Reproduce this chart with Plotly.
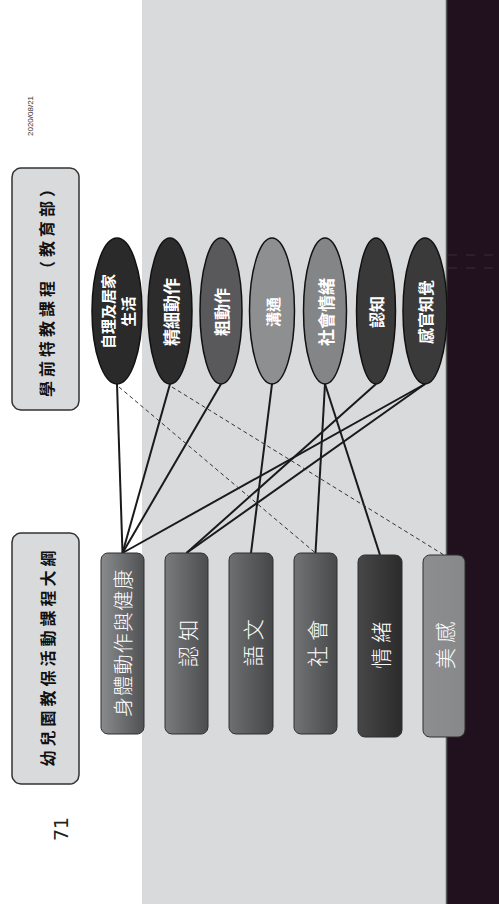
import plotly.graph_objects as go
import numpy as np

# ---------------- data ----------------
upper_labels = ["自理及居家<br>生活", "精細動作", "粗動作", "溝通", "社會情緒", "認知", "感官知覺"]
lower_labels = ["身體動作與健康", "認知", "語文", "社會", "情緒", "美感"]
title_upper = "學前特教課程（教育部）"
title_lower = "幼兒園教保活動課程大綱"
date_text = "2020/08/21"
page_number = "71"
# links: (upper index, lower index)
solid_links = [(0, 0), (1, 0), (2, 0), (3, 2), (4, 3), (4, 4), (5, 1), (6, 1), (6, 0)]
dashed_links = [(0, 3), (1, 5)]

# ---------------- layout / style ----------------
W, H = 499, 904
up_cx = [117, 170, 221, 272, 325, 376, 425]
up_w = [50, 44, 42, 45, 43, 39, 44]
up_y0, up_y1 = 238, 384
up_fill = ["#2a2a2a", "#2c2c2c", "#59595b", "#8e8f91", "#848587", "#393939", "#3a3a3a"]
up_font = [15, 17, 16, 15, 17, 16, 16]

lo_x0 = [101, 165, 229, 294, 358, 423]
lo_x1 = [144, 208, 273, 337, 402, 465]
lo_y0 = [553, 553, 553, 553, 555, 555]
lo_y1 = [734, 734, 734, 734, 737, 737]
lo_grad = [("#8a8b8d", "#505153"), ("#7a7b7d", "#4c4d4f"), ("#6e6f71", "#454648"),
           ("#727375", "#48494b"), ("#474747", "#2b2b2b"), ("#8e8e90", "#87888a")]

FONT = "Noto Sans CJK TC"


def rounded_rect(x0, y0, x1, y1, r, n=8):
    xs, ys = [], []
    corners = [(x1 - r, y0 + r, -90, 0), (x1 - r, y1 - r, 0, 90),
               (x0 + r, y1 - r, 90, 180), (x0 + r, y0 + r, 180, 270)]
    for cx, cy, a0, a1 in corners:
        for a in np.linspace(np.radians(a0), np.radians(a1), n):
            xs.append(cx + r * np.cos(a))
            ys.append(cy + r * np.sin(a))
    xs.append(xs[0]); ys.append(ys[0])
    return xs, ys


fig = go.Figure()
shapes = []
annotations = []

# backgrounds
shapes.append(dict(type="rect", xref="x", yref="y", x0=142, x1=446, y0=0, y1=H,
                   fillcolor="#d9dadc", line=dict(width=0), layer="below"))
shapes.append(dict(type="rect", xref="x", yref="y", x0=446, x1=W, y0=0, y1=H,
                   fillcolor="#21111f", line=dict(width=0), layer="below"))
shapes.append(dict(type="line", xref="x", yref="y", x0=446.5, x1=446.5, y0=0, y1=H,
                   line=dict(color="#5a5a5a", width=1.5), layer="below"))
for yy in (255, 268):
    shapes.append(dict(type="line", xref="x", yref="y", x0=448, x1=W, y0=yy, y1=yy,
                       line=dict(color="#3a2c38", width=1, dash="dash"), layer="below"))

# title boxes
for (y0, y1, txt) in [(168, 410, title_upper), (533, 784, title_lower)]:
    xs, ys = rounded_rect(12, y0, 79, y1, 9)
    fig.add_trace(go.Scatter(x=xs, y=ys, mode="lines", fill="toself", fillcolor="#d9dadc",
                             line=dict(color="#333333", width=1.5), hoverinfo="skip", showlegend=False))
    annotations.append(dict(x=46, y=(y0 + y1) / 2, xref="x", yref="y", text="\u2005".join(txt),
                            textangle=-90, showarrow=False,
                            font=dict(family=FONT, size=16, color="#111111", weight=700)))

# link lines
bottom_y = up_y1
for (u, l) in solid_links:
    fig.add_trace(go.Scatter(x=[up_cx[u], (lo_x0[l] + lo_x1[l]) / 2], y=[bottom_y, lo_y0[l]],
                             mode="lines", line=dict(color="#1a1a1a", width=2),
                             hoverinfo="skip", showlegend=False))
for (u, l) in dashed_links:
    fig.add_trace(go.Scatter(x=[up_cx[u] + 2, (lo_x0[l] + lo_x1[l]) / 2], y=[bottom_y + 3, lo_y0[l]],
                             mode="lines", line=dict(color="#333333", width=1, dash="4px,3px"),
                             hoverinfo="skip", showlegend=False))

# lower rounded rects with gradient
for i, lab in enumerate(lower_labels):
    xs, ys = rounded_rect(lo_x0[i], lo_y0[i], lo_x1[i], lo_y1[i], 7)
    c0, c1 = lo_grad[i]
    fig.add_trace(go.Scatter(x=xs, y=ys, mode="lines", fill="toself",
                             fillgradient=dict(type="horizontal", colorscale=[[0, c0], [1, c1]]),
                             line=dict(color="#2e2e2e", width=1), hoverinfo="skip", showlegend=False))
    if len(lab) > 3:
        txt, size = "\u200a".join(lab), 20
    else:
        txt, size = "\u2005".join(lab), 21
    annotations.append(dict(x=(lo_x0[i] + lo_x1[i]) / 2, y=(lo_y0[i] + lo_y1[i]) / 2,
                            xref="x", yref="y", text=txt, textangle=-90, showarrow=False,
                            font=dict(family=FONT, size=size, color="#ffffff", weight=300)))

# upper ellipses
for i, lab in enumerate(upper_labels):
    shapes.append(dict(type="circle", xref="x", yref="y",
                       x0=up_cx[i] - up_w[i] / 2, x1=up_cx[i] + up_w[i] / 2,
                       y0=up_y0, y1=up_y1, fillcolor=up_fill[i],
                       line=dict(color="#111111", width=1.5), layer="above"))
    annotations.append(dict(x=up_cx[i], y=(up_y0 + up_y1) / 2 + 1, xref="x", yref="y",
                            text=lab, textangle=-90, showarrow=False,
                            font=dict(family=FONT, size=up_font[i], color="#ffffff", weight=700)))

# date & page number
annotations.append(dict(x=30, y=116, xref="x", yref="y", text=date_text, textangle=-90,
                        showarrow=False, font=dict(family="Liberation Sans Narrow, Liberation Sans", size=8, color="#333333")))
annotations.append(dict(x=61, y=829, xref="x", yref="y", text=page_number, textangle=-90,
                        showarrow=False, font=dict(family="DejaVu Sans", size=19, color="#222222")))

fig.update_layout(width=W, height=H, margin=dict(l=0, r=0, t=0, b=0),
                  paper_bgcolor="#ffffff", plot_bgcolor="#ffffff",
                  xaxis=dict(range=[0, W], visible=False, fixedrange=True),
                  yaxis=dict(range=[H, 0], visible=False, fixedrange=True),
                  shapes=shapes, annotations=annotations, showlegend=False)
fig.write_html("out.html", config={"displayModeBar": False},
               post_script="document.body.style.margin='0';document.body.style.overflow='hidden';")
